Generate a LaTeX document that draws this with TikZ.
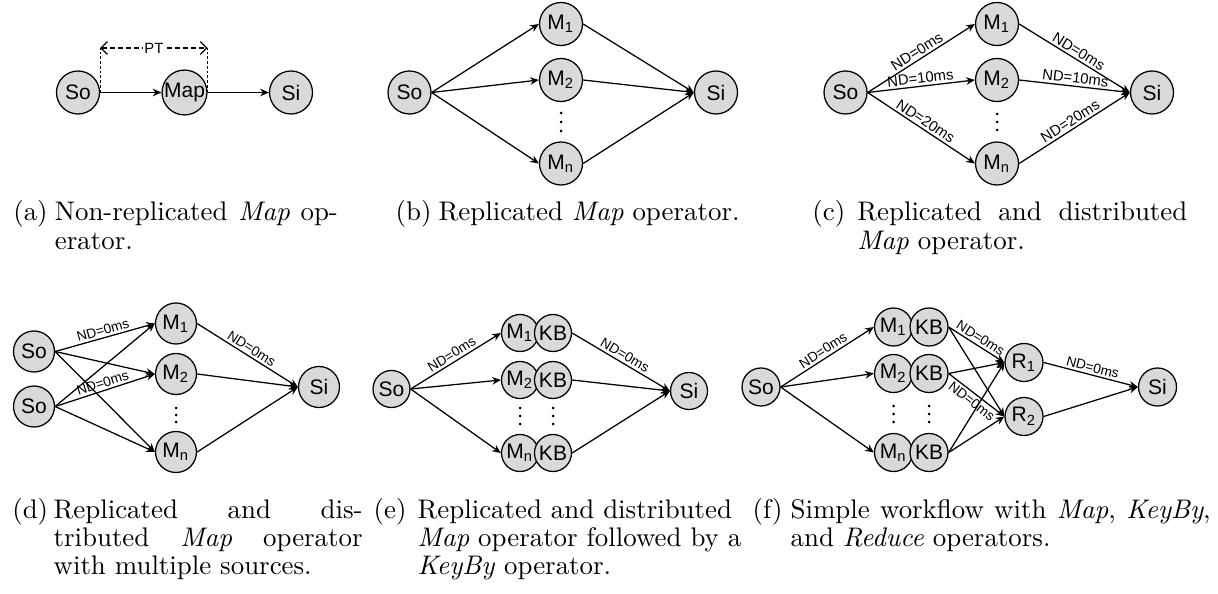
\documentclass[tikz,border=0pt]{standalone}
\usepackage{fontspec}
\usetikzlibrary{arrows.meta}
\newfontfamily\opfont{Liberation Sans}
\definecolor{opgray}{RGB}{217,217,217}

\begin{document}
\begin{tikzpicture}[x=0.357pt, y=-0.357pt, line width=0.45pt,
  >={Stealth[length=3.1pt, width=2.7pt]},
  op/.style={circle, draw, fill=opgray, inner sep=0pt, minimum size=#1*0.357pt,
    font=\opfont\fontsize{7.5}{9}\selectfont},
  op/.default=43,
  nd/.style={font=\opfont\fontsize{4.9}{5.5}\selectfont, sloped, inner sep=0.8pt},
  ndbig/.style={nd, font=\opfont\fontsize{5.3}{6}\selectfont},
  sublabel/.style={font=\fontsize{9.6}{10.1}\selectfont, inner sep=0pt, anchor=base west},
  subtext/.style={sublabel, text width=#1*0.357pt, align=justify}]
  \useasboundingbox (0,0) rectangle (1218,594);

  % --- (a) Non-replicated ---
  \node[op] (a-so) at (78,92.5) {So};
  \node[op] (a-map) at (184.5,92.5) {Map};
  \node[op] (a-si) at (291,92.5) {Si};
  \draw[->] (a-so) -- (a-map);
  \draw[->] (a-map) -- (a-si);
  % processing time bracket
  \coordinate (pt-l) at (a-so.east |- 0,48);
  \coordinate (pt-r) at (a-map.east |- 0,48);
  \draw[line width=0.3pt, dash pattern=on 1pt off 0.7pt] (a-so.east) -- (pt-l);
  \draw[line width=0.3pt, dash pattern=on 1pt off 0.7pt] (a-map.east) -- (pt-r);
  \draw[dash pattern=on 1.8pt off 1.1pt, {Straight Barb[length=2.3pt, width=4.6pt]}-{Straight Barb[length=2.3pt, width=4.6pt]}]
    (pt-l) -- node[fill=white, inner sep=0.6pt, font=\opfont\fontsize{5.3}{6}\selectfont] (pt) {PT} (pt-r);

  % --- (b) Replicated ---
  \node[op] (b-so) at (409.5,92.5) {So};
  \node[op] (b-si) at (716,92.5) {Si};
  \foreach \n/\y in {1/24, 2/80, n/163.5} {
    \node[op] (b-m\n) at (561,\y) {M\textsubscript{\n}};
    \draw[->] (b-so.east) -- (b-m\n.west);
    \draw[->] (b-m\n.east) -- (b-si.west);
  }
  \foreach \y in {113,122,131} \fill (561,\y) circle (1.5);

  % --- (c) Replicated and distributed ---
  \node[op] (c-so) at (845.5,92.5) {So};
  \node[op] (c-si) at (1152,92.5) {Si};
  \foreach \n/\y/\dl in {1/24/0, 2/80/10, n/163.5/20} {
    \node[op] (c-m\n) at (997,\y) {M\textsubscript{\n}};
    \draw[->] (c-so.east) -- node[ndbig, above] {ND=\dl ms} (c-m\n.west);
    \draw[->] (c-m\n.east) -- node[ndbig, above] {ND=\dl ms} (c-si.west);
  }
  \foreach \y in {114,122,130} \fill (997,\y) circle (1.5);

  % --- (d) Multiple sources ---
  \node[op=41] (d-so1) at (34,351.5) {So};
  \node[op=41] (d-so2) at (34,406.5) {So};
  \node[op=41] (d-si) at (319,387) {Si};
  \foreach \n/\y in {1/323.5, 2/374, n/452} {
    \node[op=41] (d-m\n) at (176,\y) {M\textsubscript{\n}};
  }
  \draw[->] (d-so1.east) -- node[nd, above] {ND=0ms} (d-m1.west);
  \draw[->] (d-so1.east) -- (d-m2.west);
  \draw[->] (d-so1.east) -- (d-mn.west);
  \draw[->] (d-so2.east) -- (d-m1.west);
  \draw[->] (d-so2.east) -- node[nd, above] {ND=0ms} (d-m2.west);
  \draw[->] (d-so2.east) -- (d-mn.west);
  \draw[->] (d-m1.east) -- node[nd, above] {ND=0ms} (d-si.west);
  \draw[->] (d-m2.east) -- (d-si.west);
  \draw[->] (d-mn.east) -- (d-si.west);
  \foreach \y in {408,415,422} \fill (176,\y) circle (1.5);

  % --- (e) Map followed by KeyBy ---
  \node[op=37] (e-so) at (391.5,389) {So};
  \node[op=37] (e-si) at (689,391) {Si};
  \foreach \n/\y in {1/333, 2/380, n/453} {
    \node[op=37] (e-m\n) at (520,\y) {M\textsubscript{\n}};
    \node[op=37] (e-kb\n) at (553,\y) {KB};
  }
  \draw[->] (e-so.east) -- node[nd, above] {ND=0ms} (e-m1.west);
  \draw[->] (e-so.east) -- (e-m2.west);
  \draw[->] (e-so.east) -- (e-mn.west);
  \draw[->] (e-kb1.east) -- node[nd, above] {ND=0ms} (e-si.west);
  \draw[->] (e-kb2.east) -- (e-si.west);
  \draw[->] (e-kbn.east) -- (e-si.west);
  \foreach \x in {520,553} \foreach \y in {408,416,424} \fill (\x,\y) circle (1.5);

  % --- (f) Map, KeyBy, Reduce ---
  \node[op=38] (f-so) at (761,387) {So};
  \node[op=38] (f-r1) at (1024,362.5) {R\textsubscript{1}};
  \node[op=38] (f-r2) at (1024,416.5) {R\textsubscript{2}};
  \node[op=38] (f-si) at (1157.5,387) {Si};
  \foreach \n/\y in {1/327, 2/373.5, n/452.5} {
    \node[op=38] (f-m\n) at (893.5,\y) {M\textsubscript{\n}};
    \node[op=38] (f-kb\n) at (929,\y) {KB};
  }
  \draw[->] (f-so.east) -- node[nd, above] {ND=0ms} (f-m1.west);
  \draw[->] (f-so.east) -- (f-m2.west);
  \draw[->] (f-so.east) -- (f-mn.west);
  \draw[->] (f-kb1.east) -- node[nd, above] {ND=0ms} (f-r1.west);
  \draw[->] (f-kb1.east) -- (f-r2.west);
  \draw[->] (f-kb2.east) -- (f-r1.west);
  \draw[->] (f-kb2.east) -- node[nd, below] {ND=0ms} (f-r2.west);
  \draw[->] (f-kbn.east) -- (f-r1.west);
  \draw[->] (f-kbn.east) -- (f-r2.west);
  \draw[->] (f-r1.east) -- node[nd, above] {ND=0ms} (f-si.west);
  \draw[->] (f-r2.east) -- (f-si.west);
  \foreach \x in {893.5,929} \foreach \y in {406,414,422} \fill (\x,\y) circle (1.5);

  % --- Captions ---
  \node[sublabel] (cap-a) at (12.7,221) {(a)};
  \node[subtext=283] (cap-a-t) at (54.3,221) {Non-replicated \emph{Map} op-\linebreak erator.};
  \node[sublabel] (cap-b) at (395,221) {(b)};
  \node[sublabel] (cap-b-t) at (438,221) {Replicated \emph{Map} operator.};
  \node[sublabel] (cap-c) at (811.7,221) {(c)};
  \node[subtext=330] (cap-c-t) at (856.7,221) {Replicated and distributed\linebreak \emph{Map} operator.};
  \node[sublabel] (cap-d) at (11.7,518) {(d)};
  \node[subtext=309] (cap-d-t) at (53,518) {Replicated and dis-\linebreak tributed \emph{Map} operator\linebreak with multiple sources.};
  \node[sublabel] (cap-e) at (373,518) {(e)};
  \node[subtext=330] (cap-e-t) at (417,518) {Replicated and distributed\\ \emph{Map} operator followed by a\\ \emph{KeyBy} operator.};
  \node[sublabel] (cap-f) at (752,518) {(f)};
  \node[subtext=420] (cap-f-t) at (790,518) {Simple workflow with \emph{Map}, \emph{KeyBy},\linebreak and \emph{Reduce} operators.};
\end{tikzpicture}
\end{document}
